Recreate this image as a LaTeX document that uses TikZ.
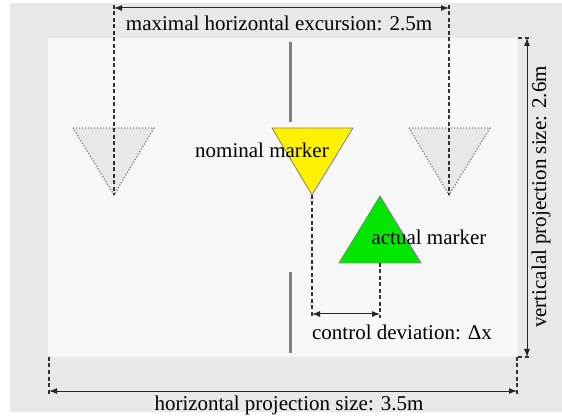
\documentclass[tikz,border=0pt]{standalone}
\usepackage{fontspec}
\setmainfont{Liberation Serif}
\usetikzlibrary{arrows.meta}
\definecolor{outerbg}{HTML}{E8E8E8}
\definecolor{innerbg}{HTML}{F7F7F7}
\definecolor{ghostfill}{HTML}{E8E8E8}
\definecolor{edgegray}{HTML}{808080}
\definecolor{dashgray}{HTML}{333333}
\definecolor{markgreen}{HTML}{00E600}
\begin{document}
\begin{tikzpicture}[x=1pt,y=-1pt,
  dimline/.style={draw=dashgray, dash pattern=on 4pt off 2.5pt, line width=1.1pt},
  dimarrow/.style={{Latex[length=8pt,width=6pt]}-{Latex[length=8pt,width=6pt]}, line width=1pt, draw=black!85},
  ghost/.style={fill=ghostfill, draw=edgegray, dash pattern=on 1.2pt off 1.8pt, line width=1.3pt},
  marker/.style={draw=edgegray, line width=0.8pt},
  lbl/.style={font=\fontsize{21}{24}\selectfont, inner sep=0pt},
  post/.style={draw=edgegray, line width=3pt}]
\useasboundingbox (0,0) rectangle (562,419);
\fill[outerbg] (10,3) rectangle (562,412);
\fill[innerbg] (48,38) rectangle (518,357);

% ghost triangles
\filldraw[ghost] (73,128) -- (154,128) -- (114,195) -- cycle;
\filldraw[ghost] (409,128) -- (490,128) -- (449,195) -- cycle;

% posts
\coordinate (pa1) at (290,42); \coordinate (pa2) at (290,122);
\coordinate (pb1) at (290,272); \coordinate (pb2) at (290,353);
\draw[post] (pa1) -- (pa2);
\draw[post] (pb1) -- (pb2);

% markers
\filldraw[marker, fill=yellow] (272,128) -- (353,128) -- (312,195) -- cycle;
\filldraw[marker, fill=markgreen] (380,196) -- (421,263) -- (339,263) -- cycle;

% coordinates
\coordinate (lt) at (114,5);  \coordinate (lb) at (114,195);
\coordinate (rt) at (449,5);  \coordinate (rb) at (449,195);
\coordinate (nt) at (312,195); \coordinate (nb) at (312,318);
\coordinate (at) at (380,263); \coordinate (ab) at (380,318);
\coordinate (bl1) at (49,357); \coordinate (bl2) at (49,395);
\coordinate (br1) at (517,357); \coordinate (br2) at (517,395);
\coordinate (rtt1) at (518,38); \coordinate (rtt2) at (531,38);
\coordinate (rbb1) at (518,357); \coordinate (rbb2) at (531,357);

% dashed guides
\draw[dimline] (lt) -- (lb);
\draw[dimline] (rt) -- (rb);
\draw[dimline] (nt) -- (nb);
\draw[dimline] (at) -- (ab);
\draw[dimline] (bl1) -- (bl2);
\draw[dimline] (br1) -- (br2);
\draw[dimline] (rtt1) -- (rtt2);
\draw[dimline] (rbb1) -- (rbb2);

% dimension arrows
\coordinate (ta1) at (114,8); \coordinate (ta2) at (449,8);
\draw[dimarrow] (ta1) -- (ta2);
\coordinate (ca1) at (312,314); \coordinate (ca2) at (380,314);
\draw[dimarrow] (ca1) -- (ca2);
\coordinate (ba1) at (49,391); \coordinate (ba2) at (517,391);
\draw[dimarrow] (ba1) -- (ba2);
\coordinate (va1) at (527,38); \coordinate (va2) at (527,357);
\draw[dimarrow] (va1) -- (va2);

% labels
\node[lbl] (tmax) at (279,23) {maximal horizontal excursion: 2.5m};
\node[lbl] (tnom) at (262,150) {nominal marker};
\node[lbl] (tact) at (429,237) {actual marker};
\node[lbl] (tdev) at (402,332) {control deviation: Δx};
\node[lbl] (thor) at (289,405) {horizontal projection size: 3.5m};
\node[lbl, rotate=90] (tver) at (541,197) {verticalal projection size: 2.6m};
\end{tikzpicture}
\end{document}
